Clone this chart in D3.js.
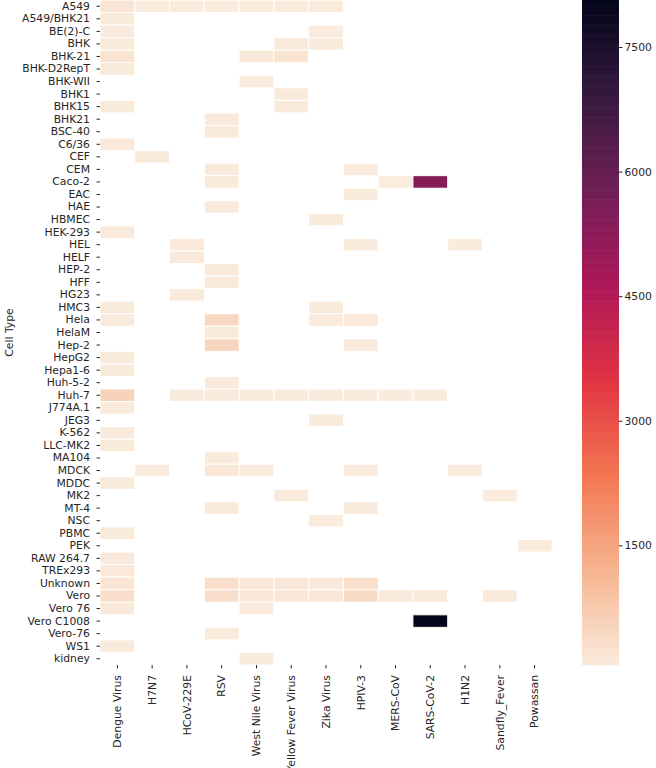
<!DOCTYPE html>
<html>
<head>
<meta charset="utf-8">
<script src="https://cdn.jsdelivr.net/npm/d3@7"></script>
<style>
  html, body { margin: 0; padding: 0; background: #fff; }
  svg text { font-family: "DejaVu Sans", sans-serif; fill: #262626; }
</style>
</head>
<body>
<svg id="chart" width="656" height="768"></svg>
<script>
const cellTypes = ["A549","A549/BHK21","BE(2)-C","BHK","BHK-21","BHK-D2RepT","BHK-WII","BHK1","BHK15","BHK21","BSC-40","C6/36","CEF","CEM","Caco-2","EAC","HAE","HBMEC","HEK-293","HEL","HELF","HEP-2","HFF","HG23","HMC3","Hela","HelaM","Hep-2","HepG2","Hepa1-6","Huh-5-2","Huh-7","J774A.1","JEG3","K-562","LLC-MK2","MA104","MDCK","MDDC","MK2","MT-4","NSC","PBMC","PEK","RAW 264.7","TREx293","Unknown","Vero","Vero 76","Vero C1008","Vero-76","WS1","kidney"];
const viruses = ["Dengue Virus","H7N7","HCoV-229E","RSV","West Nile Virus","Yellow Fever Virus","Zika Virus","HPIV-3","MERS-CoV","SARS-CoV-2","H1N2","Sandfly_Fever","Powassan"];

const dengue = [["A549",200],["A549/BHK21",90],["BE(2)-C",90],["BHK",90],["BHK-21",230],["BHK-D2RepT",90],["BHK15",80],["C6/36",100],["HEK-293",90],["HMC3",90],["Hela",90],["HepG2",90],["Hepa1-6",80],["Huh-7",560],["J774A.1",90],["K-562",90],["LLC-MK2",90],["MDDC",90],["PBMC",90],["RAW 264.7",100],["TREx293",100],["Unknown",200],["Vero",330],["Vero 76",130],["WS1",90]];
const h7n7 = [["A549",60],["CEF",80],["MDCK",80]];
const hcov229e = [["A549",60],["HEL",110],["HELF",110],["HG23",80],["Huh-7",70]];
const rsv = [["A549",60],["BHK21",80],["BSC-40",80],["CEM",80],["Caco-2",80],["HAE",80],["HEP-2",80],["HFF",80],["Hela",450],["HelaM",80],["Hep-2",520],["Huh-5-2",80],["Huh-7",80],["MA104",80],["MDCK",150],["MT-4",80],["Unknown",330],["Vero",330],["Vero-76",80]];
const westNile = [["A549",60],["BHK-21",110],["BHK-WII",80],["Huh-7",70],["MDCK",80],["Unknown",150],["Vero",150],["Vero 76",80],["kidney",80]];
const yellowFever = [["A549",60],["BHK",80],["BHK-21",230],["BHK1",80],["BHK15",90],["Huh-7",70],["MK2",80],["Unknown",150],["Vero",150]];
const zika = [["A549",60],["BE(2)-C",70],["BHK",70],["HBMEC",70],["HMC3",70],["Hela",70],["Huh-7",70],["JEG3",70],["NSC",70],["Unknown",110],["Vero",150]];
const hpiv3 = [["CEM",70],["EAC",70],["HEL",70],["Hela",100],["Hep-2",80],["Huh-7",70],["MDCK",80],["MT-4",80],["Unknown",330],["Vero",420]];
const mers = [["Caco-2",70],["Huh-7",60],["Vero",90]];
const sars2 = [["Caco-2",5400],["Huh-7",70],["Vero",90],["Vero C1008",8066]];
const h1n2 = [["HEL",70],["MDCK",70]];
const sandfly = [["MK2",70],["Vero",80]];
const powassan = [["PEK",60]];

const colorbarTicks = [1500, 3000, 4500, 6000, 7500];

const seriesList = [dengue, h7n7, hcov229e, rsv, westNile, yellowFever, zika, hpiv3, mers, sars2, h1n2, sandfly, powassan];
const cells = [];
seriesList.forEach((s, i) => s.forEach(([c, v]) => cells.push({cell: c, virus: viruses[i], value: v})));

// rocket colormap stops (seaborn)
const rocketStops = ["#03051a","#35193e","#701f57","#ad1759","#e13342","#f37651","#f6b48f","#faebdd"];
const rocketPos = [0, 1/7, 2/7, 3/7, 4/7, 5/7, 6/7, 1];
const rocket = d3.scaleLinear().domain(rocketPos).range(rocketStops).interpolate(d3.interpolateRgb);

const [vmin, vmax] = d3.extent(cells, d => d.value);
const norm = d3.scaleLinear().domain([vmin, vmax]).range([0, 1]).clamp(true);
const color = v => rocket(1 - norm(v));

const svg = d3.select("#chart");
const plot = {left: 100, right: 552, top: 0, bottom: 665};

const x = d3.scaleBand().domain(viruses).range([plot.left, plot.right]);
const y = d3.scaleBand().domain(cellTypes).range([plot.top, plot.bottom]);

svg.append("g").selectAll("rect").data(cells).join("rect")
  .attr("x", d => x(d.virus))
  .attr("y", d => y(d.cell))
  .attr("width", x.bandwidth())
  .attr("height", y.bandwidth())
  .attr("fill", d => color(d.value))
  .attr("stroke", "#fff")
  .attr("stroke-width", 1);

// Y axis
const yAxis = svg.append("g").attr("transform", `translate(${plot.left},0)`)
  .call(d3.axisLeft(y).tickSize(3.5).tickPadding(6.5));
yAxis.select(".domain").remove();
yAxis.selectAll("line").attr("stroke", "#262626");
yAxis.selectAll("text").style("font-size", "10.8px").style("font-family", "DejaVu Sans").attr("fill", "#262626");

// X axis
const xAxis = svg.append("g").attr("transform", `translate(0,${plot.bottom})`)
  .call(d3.axisBottom(x).tickSize(3.5).tickPadding(3));
xAxis.select(".domain").remove();
xAxis.selectAll("line").attr("stroke", "#262626");
xAxis.selectAll("text")
  .style("font-size", "10.8px").style("font-family", "DejaVu Sans").attr("fill", "#262626")
  .attr("transform", "rotate(-90)")
  .attr("text-anchor", "end")
  .attr("x", -10)
  .attr("y", 0)
  .attr("dy", "0.35em");

// Y title
svg.append("text")
  .attr("transform", `translate(9,${(plot.top + plot.bottom) / 2}) rotate(-90)`)
  .attr("text-anchor", "middle")
  .attr("dy", "0.35em")
  .style("font-size", "10.8px")
  .text("Cell Type");

// Colorbar
const cb = {x: 582, w: 37, top: 0, bottom: 665};
const cbScale = d3.scaleLinear().domain([vmin, vmax]).range([cb.bottom, cb.top]);
const steps = 300;
const stepVals = d3.range(steps).map(i => vmin + (vmax - vmin) * i / steps);
const stepH = (cb.bottom - cb.top) / steps;
svg.append("g").selectAll("rect").data(stepVals).join("rect")
  .attr("x", cb.x)
  .attr("y", d => cbScale(d) - stepH - 0.3)
  .attr("width", cb.w)
  .attr("height", stepH + 0.6)
  .attr("fill", d => color(d + (vmax - vmin) / steps / 2));

const cbAxis = svg.append("g").attr("transform", `translate(${cb.x + cb.w},0)`)
  .call(d3.axisRight(cbScale).tickValues(colorbarTicks).tickFormat(d3.format("d")).tickSize(3.5).tickPadding(2));
cbAxis.select(".domain").remove();
cbAxis.selectAll("line").attr("stroke", "#262626");
cbAxis.selectAll("text").style("font-size", "10.8px").style("font-family", "DejaVu Sans").attr("fill", "#262626");
</script>
</body>
</html>
